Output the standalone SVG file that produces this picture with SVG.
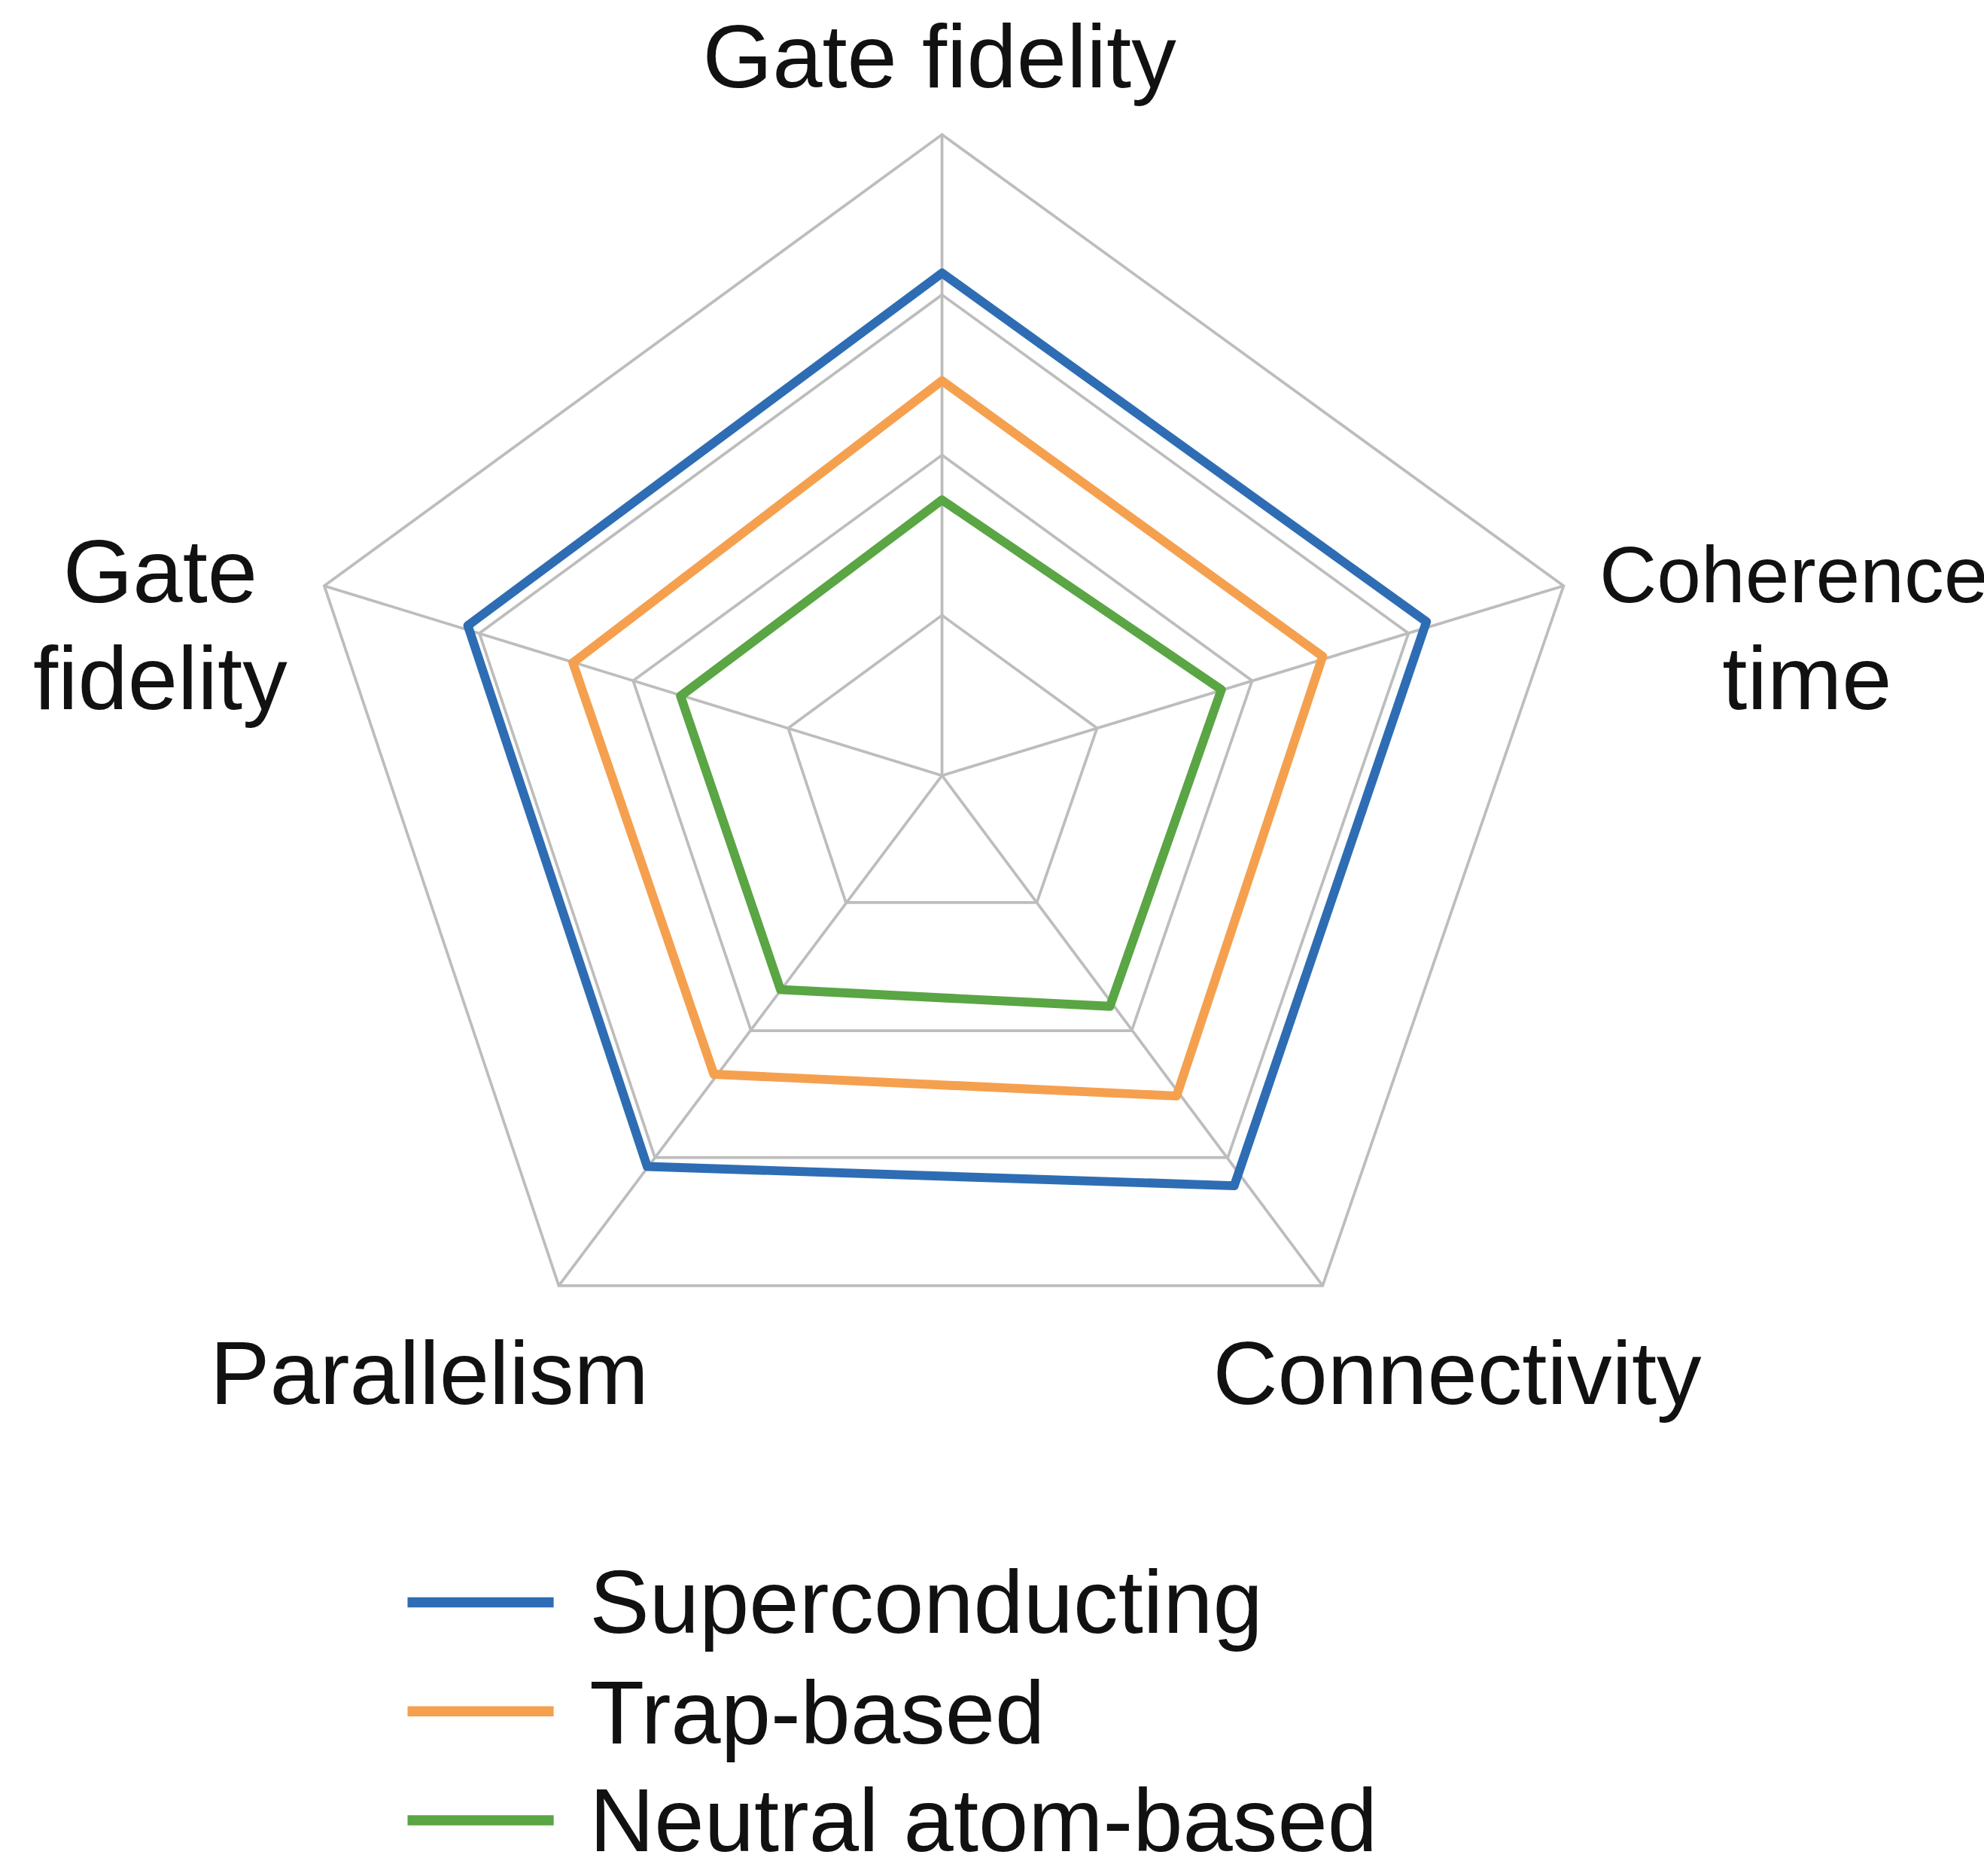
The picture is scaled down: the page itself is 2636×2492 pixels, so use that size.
<svg xmlns="http://www.w3.org/2000/svg" width="2636" height="2492" viewBox="0 0 2636 2492">
<style>
.g{fill:none;stroke:#bdbdbd;stroke-width:2.2}
.s{fill:none;stroke-width:7;stroke-linejoin:round}
text{font-family:"Liberation Sans",Arial,sans-serif;font-size:70px;fill:#111}
.c{font-size:62px}
</style>
<rect width="2636" height="2492" fill="#fff"/>
<g transform="scale(1.7028)">
<g id="grid">
<polygon class="g" points="735,105 1220,457 1032,1003 436,1003 253,457"/>
<polygon class="g" points="735,230 1099,494 958,903 511,903 374,494"/>
<polygon class="g" points="735,355 977,531 883,804 586,804 494,531"/>
<polygon class="g" points="735,480 856,568 809,704 660,704 615,568"/>
<line class="g" x1="735" y1="605" x2="735" y2="105"/>
<line class="g" x1="735" y1="605" x2="1220" y2="457"/>
<line class="g" x1="735" y1="605" x2="1032" y2="1003"/>
<line class="g" x1="735" y1="605" x2="436" y2="1003"/>
<line class="g" x1="735" y1="605" x2="253" y2="457"/>
</g>
<g id="series">
<polygon class="s" stroke="#2e6db4" points="735,213 1113,485 963,925 505,910 365,488"/>
<polygon class="s" stroke="#f5a04f" points="735,297 1032,512 918,855 557,838 447,517"/>
<polygon class="s" stroke="#5aa544" points="735,390 953,538 866,785 609,772 531,543"/>
</g>
<g id="labels">
<text x="733" y="68" text-anchor="middle">Gate fidelity</text>
<text x="125" y="470" text-anchor="middle">Gate</text>
<text x="125" y="553" text-anchor="middle">fidelity</text>
<text class="c" x="1248" y="470">Coherence</text>
<text x="1410" y="553" text-anchor="middle">time</text>
<text x="335" y="1095" text-anchor="middle">Parallelism</text>
<text x="1137" y="1095" text-anchor="middle">Connectivity</text>
</g>
<g id="legend">
<line x1="318" y1="1250" x2="432" y2="1250" stroke="#2e6db4" stroke-width="8"/>
<line x1="318" y1="1335" x2="432" y2="1335" stroke="#f5a04f" stroke-width="8"/>
<line x1="318" y1="1420" x2="432" y2="1420" stroke="#5aa544" stroke-width="8"/>
<text x="460" y="1274">Superconducting</text>
<text x="460" y="1360">Trap-based</text>
<text x="460" y="1444">Neutral atom-based</text>
</g>
</g>
</svg>
